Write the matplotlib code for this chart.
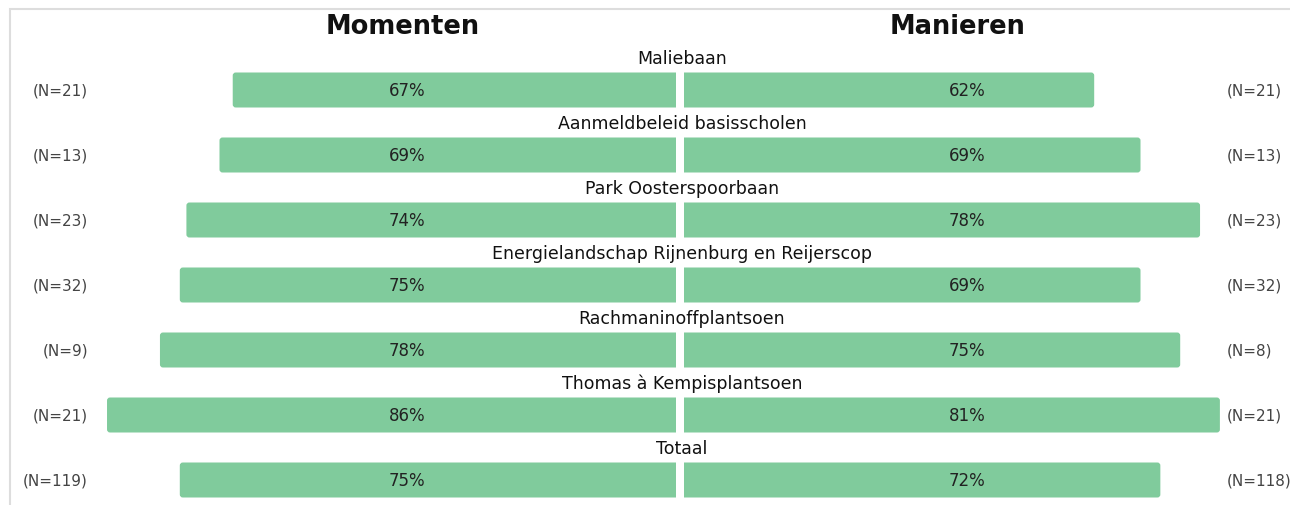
import matplotlib.pyplot as plt
from matplotlib.patches import FancyBboxPatch, Rectangle
from matplotlib.transforms import blended_transform_factory

plt.rcParams['font.family'] = ['DejaVu Sans']

# data
locaties = ['Maliebaan', 'Aanmeldbeleid basisscholen', 'Park Oosterspoorbaan',
            'Energielandschap Rijnenburg en Reijerscop', 'Rachmaninoffplantsoen',
            'Thomas à Kempisplantsoen', 'Totaal']
momenten = [67, 69, 74, 75, 78, 86, 75]
manieren = [62, 69, 78, 69, 75, 81, 72]
n_momenten = [21, 13, 23, 32, 9, 21, 119]
n_manieren = [21, 13, 23, 32, 8, 21, 118]

W, H = 1290, 506
green = '#80cb9c'
px_per_pct = 6.616
row_px = 65

fig = plt.figure(figsize=(W / 100, H / 100), dpi=100)

# light frame
fig.patches.append(Rectangle((10 / W, -0.1), 1.2, 1 - 10 / H + 0.1, transform=fig.transFigure,
                             fill=False, edgecolor='#dddddd', linewidth=1.5))

ylim = ((H - 91) / row_px, -91 / row_px)
ax_l = fig.add_axes([0, 0, 676 / W, 1])
ax_l.set_xlim(676 / px_per_pct, 0)
ax_r = fig.add_axes([684 / W, 0, (W - 684) / W, 1])
ax_r.set_xlim(0, (W - 684) / px_per_pct)

bar_h = 35 / row_px
r = 3 / px_per_pct
aspect = px_per_pct / row_px


def draw_bars(ax, values):
    # bars start a bit past zero so the axes edge cuts off the inner rounding
    for i, v in enumerate(values):
        ax.add_patch(FancyBboxPatch((-2, i - bar_h / 2), v + 2, bar_h,
                                    boxstyle=f'round,pad=0,rounding_size={r}',
                                    mutation_aspect=aspect, facecolor=green,
                                    edgecolor='none', clip_on=True))


for ax in (ax_l, ax_r):
    ax.set_ylim(*ylim)
    ax.axis('off')
    ax.patch.set_alpha(0)

draw_bars(ax_l, momenten)
draw_bars(ax_r, manieren)

for i, (v, n) in enumerate(zip(momenten, n_momenten)):
    ax_l.text(269 / px_per_pct, i, f'{v}%', ha='center', va='center', fontsize=12, color='#222222')
    ax_l.text(588 / px_per_pct, i, f'(N={n})', ha='right', va='center', fontsize=11, color='#444444')

for i, (v, n) in enumerate(zip(manieren, n_manieren)):
    ax_r.text(283 / px_per_pct, i, f'{v}%', ha='center', va='center', fontsize=12, color='#222222')
    ax_r.text(543 / px_per_pct, i, f'(N={n})', ha='left', va='center', fontsize=11, color='#444444')

trans = blended_transform_factory(fig.transFigure, ax_l.transData)
for i, name in enumerate(locaties):
    ax_l.text(682 / W, i - 32 / row_px, name, transform=trans, ha='center', va='center',
              fontsize=12.5, color='#111111', clip_on=False)

fig.text(403 / W, 1 - 27 / H, 'Momenten', ha='center', va='center', fontsize=18.5,
         fontweight='bold', color='#111111')
fig.text(958 / W, 1 - 27 / H, 'Manieren', ha='center', va='center', fontsize=18.5,
         fontweight='bold', color='#111111')

fig.savefig('out.png', dpi=100)
